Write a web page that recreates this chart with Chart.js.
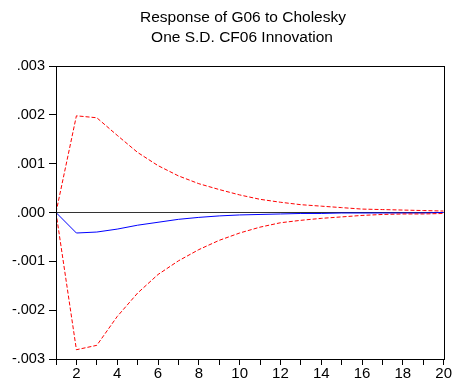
<!DOCTYPE html>
<html>
<head>
<meta charset="utf-8">
<script src="https://cdn.jsdelivr.net/npm/chart.js@4"></script>
<style>
  body { margin: 0; background: #fff; }
  #wrap { width: 452px; height: 383px; }
</style>
</head>
<body>
<div id="wrap"><canvas id="irf"></canvas></div>
<script>
// periodos 1..20
const periods = [1,2,3,4,5,6,7,8,9,10,11,12,13,14,15,16,17,18,19,20];
// resposta (linha azul)
const response = [0, -0.00042, -0.00040, -0.00034, -0.00026, -0.00020, -0.00014, -0.00010, -0.00007, -0.00005,
  -0.00004, -0.00003, -0.00002, -0.00002, -0.00001, -0.00001, -0.00001, -0.00001, -0.00001, 0];
// bandas +/- 2 S.E.
const upper = [0, 0.00198, 0.00194, 0.00158, 0.00123, 0.00096, 0.00075, 0.00059, 0.00047, 0.00036,
  0.00027, 0.00021, 0.00016, 0.00013, 0.00010, 0.00007, 0.00006, 0.00005, 0.00004, 0.00003];
const lower = [0, -0.00281, -0.00272, -0.00213, -0.00165, -0.00127, -0.00099, -0.00076, -0.00057, -0.00042,
  -0.00030, -0.00021, -0.00016, -0.00012, -0.00009, -0.00006, -0.00004, -0.00003, -0.00003, -0.00002];
const yTicks = [-0.003, -0.002, -0.001, 0, 0.001, 0.002, 0.003];
const titleLines = ["Response of G06 to Cholesky", "One S.D. CF06 Innovation"];

const FONT = "'Liberation Sans', Arial, sans-serif";

function pts(arr){
  return periods.map((p, i) => ({ x: p, y: arr[i] }));
}

// titulo desenhado a mao pra ficar no lugar certo
const tituloPlugin = {
  id: 'titulo',
  afterDraw(chart){
    const ctx = chart.ctx;
    ctx.save();
    ctx.fillStyle = '#000';
    ctx.font = '15.5px ' + FONT;
    ctx.textAlign = 'center';
    ctx.textBaseline = 'middle';
    ctx.fillText(titleLines[0], 243, 18);
    ctx.fillText(titleLines[1], 242, 38);
    ctx.restore();
  }
};

// moldura em volta da area do grafico
const molduraPlugin = {
  id: 'moldura',
  afterDatasetsDraw(chart){
    const a = chart.chartArea;
    const ctx = chart.ctx;
    ctx.save();
    ctx.strokeStyle = '#000';
    ctx.lineWidth = 1;
    ctx.strokeRect(Math.round(a.left) + 0.5, Math.round(a.top) + 0.5,
      Math.round(a.right - a.left), Math.round(a.bottom - a.top));
    ctx.restore();
  }
};

function criarGrafico(){
  new Chart(document.getElementById('irf'), {
    type: 'line',
    data: {
      datasets: [
        {
          label: 'upper',
          data: pts(upper),
          borderColor: '#ff0000',
          borderWidth: 1,
          borderDash: [4, 2],
          pointRadius: 0,
          tension: 0
        },
        {
          label: 'lower',
          data: pts(lower),
          borderColor: '#ff0000',
          borderWidth: 1,
          borderDash: [4, 2],
          pointRadius: 0,
          tension: 0
        },
        {
          label: 'response',
          data: pts(response),
          borderColor: '#0000ff',
          borderWidth: 1,
          pointRadius: 0,
          tension: 0
        }
      ]
    },
    options: {
      responsive: true,
      maintainAspectRatio: false,
      animation: false,
      layout: { padding: { top: 66, bottom: 0, left: 0, right: 0 } },
      plugins: {
        legend: { display: false },
        title: { display: false },
        tooltip: { enabled: false }
      },
      scales: {
        x: {
          type: 'linear',
          min: 1,
          max: 20,
          afterBuildTicks(scale){
            scale.ticks = periods.map(v => ({ value: v }));
          },
          ticks: {
            color: '#000',
            font: { family: FONT, size: 15 },
            maxRotation: 0,
            autoSkip: false,
            padding: 0,
            callback: (v) => (v % 2 === 0 ? String(v) : '')
          },
          grid: {
            drawOnChartArea: false,
            tickLength: 6,
            tickColor: '#000'
          },
          border: { color: '#000' }
        },
        y: {
          min: -0.003,
          max: 0.003,
          afterBuildTicks(scale){
            scale.ticks = yTicks.map(v => ({ value: v }));
          },
          afterFit(scale){
            scale.width = 56;
          },
          ticks: {
            color: '#000',
            font: { family: FONT, size: 14.5 },
            padding: 4,
            callback: (v) => v.toFixed(3).replace('0.', '.')
          },
          grid: {
            tickLength: 7,
            tickColor: '#000',
            color: (c) => (c.tick && Math.abs(c.tick.value) < 1e-9 ? '#333' : 'rgba(0,0,0,0)')
          },
          border: { color: '#000' }
        }
      }
    },
    plugins: [tituloPlugin, molduraPlugin]
  });
}

document.addEventListener('DOMContentLoaded', criarGrafico);
</script>
</body>
</html>
